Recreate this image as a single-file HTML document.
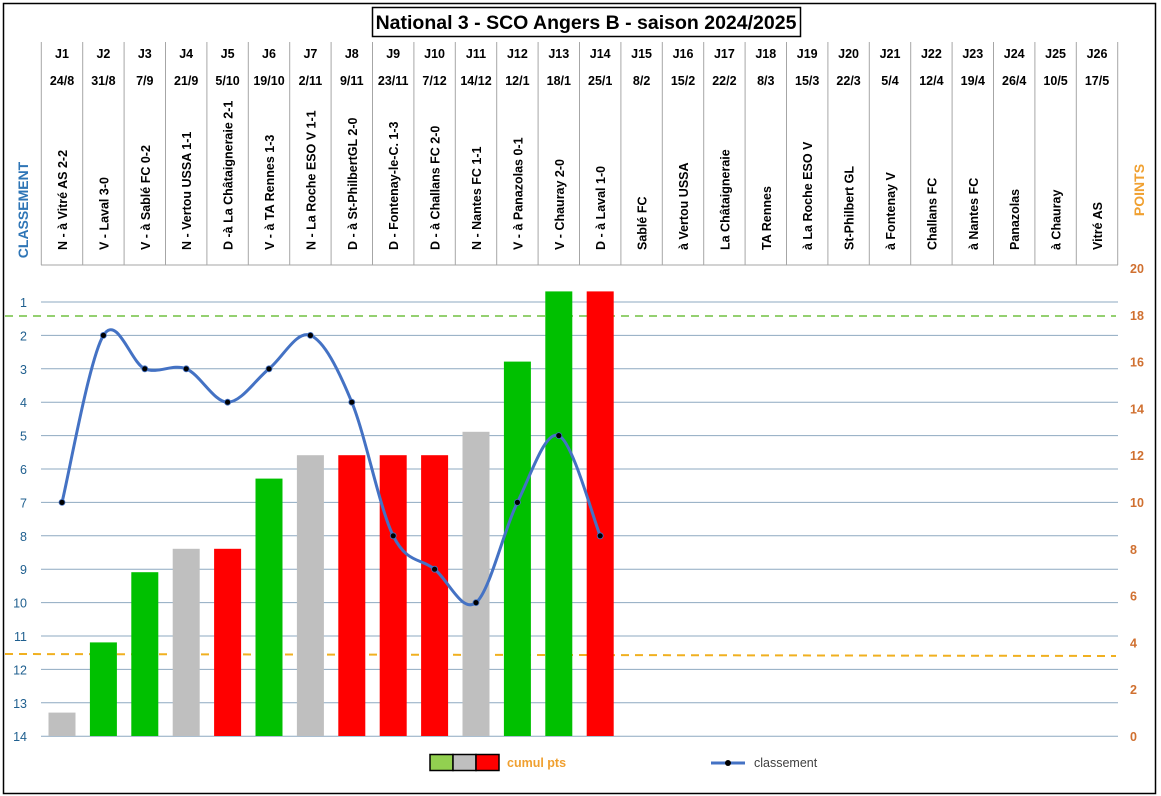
<!DOCTYPE html>
<html><head><meta charset="utf-8"><style>
html,body{margin:0;padding:0;background:#fff;width:1161px;height:796px;overflow:hidden}
svg{display:block;font-family:"Liberation Sans",Arial,sans-serif}
</style></head><body>
<svg id="s" width="1161" height="796" xmlns="http://www.w3.org/2000/svg">
<rect x="3.5" y="3.5" width="1152" height="790" fill="#fff" stroke="#000" stroke-width="1.5"/>
<rect x="372.5" y="7.5" width="428" height="29" fill="#fff" stroke="#000" stroke-width="1.5"/>
<text x="586" y="29" text-anchor="middle" font-size="19.5" font-weight="bold" fill="#000">National 3 - SCO Angers B - saison 2024/2025</text>
<g id="g"></g>
<text transform="translate(28,210) rotate(-90)" text-anchor="middle" font-size="14" font-weight="bold" fill="#2e75b6">CLASSEMENT</text>
<text transform="translate(1144,190) rotate(-90)" text-anchor="middle" font-size="14" font-weight="bold" fill="#f0a030">POINTS</text>
<rect x="430" y="754.5" width="23" height="16" fill="#92d050" stroke="#000" stroke-width="1.5"/>
<rect x="453" y="754.5" width="23" height="16" fill="#bfbfbf" stroke="#000" stroke-width="1.5"/>
<rect x="476" y="754.5" width="23" height="16" fill="#ff0000" stroke="#000" stroke-width="1.5"/>
<text x="507" y="767" font-size="12.5" font-weight="bold" fill="#f0a030">cumul pts</text>
<line x1="711" y1="763" x2="745" y2="763" stroke="#4472c4" stroke-width="3"/>
<circle cx="728" cy="763" r="3" fill="#000"/>
<text x="754" y="767" font-size="12.5" fill="#404040">classement</text>
</svg>
<script>
var g=document.getElementById('g'),h='';
function cx(i){return 41.3+41.4*(i-0.5);}
function ry(r){return 302+(r-1)*33.4;}
function py(p){return 736-23.4*p;}
var dates=['24/8','31/8','7/9','21/9','5/10','19/10','2/11','9/11','23/11','7/12','14/12','12/1','18/1','25/1','8/2','15/2','22/2','8/3','15/3','22/3','5/4','12/4','19/4','26/4','10/5','17/5'];
var labs=['N - à Vitré AS 2-2','V - Laval 3-0','V - à Sablé FC 0-2','N - Vertou USSA 1-1','D -à La Châtaigneraie 2-1','V - à TA Rennes 1-3','N - La Roche ESO V 1-1','D - à St-PhilbertGL 2-0','D - Fontenay-le-C. 1-3','D - à Challans FC 2-0','N - Nantes FC 1-1','V - à Panazolas 0-1','V - Chauray  2-0','D - à Laval 1-0','Sablé FC','à Vertou USSA','La Châtaigneraie','TA Rennes','à La Roche ESO V','St-Philbert GL','à Fontenay V','Challans FC','à Nantes FC','Panazolas','à Chauray','Vitré AS'];
// grid
for(var r=1;r<=14;r++){h+='<line x1="41" x2="1118" y1="'+ry(r)+'" y2="'+ry(r)+'" stroke="#8ea9c1" stroke-width="1"/>';
h+='<text x="27" y="'+(ry(r)+5)+'" text-anchor="end" font-size="12.5" fill="#1f5f8f">'+r+'</text>';}
for(var p=0;p<=20;p+=2){h+='<text x="1130" y="'+(py(p)+5)+'" font-size="12.5" font-weight="bold" fill="#d07030">'+p+'</text>';}
// header
for(var i=0;i<=26;i++){var x=41.3+41.4*i;h+='<line x1="'+x+'" x2="'+x+'" y1="42" y2="265" stroke="#a6a6a6"/>';}
h+='<line x1="41" x2="1118" y1="265" y2="265" stroke="#a6a6a6"/>';
for(var i=1;i<=26;i++){var x=cx(i);
h+='<text x="'+x+'" y="58" text-anchor="middle" font-size="12.5" font-weight="bold">J'+i+'</text>';
h+='<text x="'+x+'" y="85" text-anchor="middle" font-size="12.5" font-weight="bold">'+dates[i-1]+'</text>';
h+='<text transform="translate('+(x+5)+',250) rotate(-90)" font-size="12.5" font-weight="bold">'+labs[i-1]+'</text>';}
// dashed lines
h+='<line x1="5" x2="1116" y1="316" y2="316" stroke="#70c040" stroke-width="1.5" stroke-dasharray="8,6"/>';
h+='<line x1="5" x2="1116" y1="654" y2="656" stroke="#f0b020" stroke-width="2" stroke-dasharray="8,6"/>';
// bars
var pts=[1,4,7,8,8,11,12,12,12,12,13,16,19,19];
var col='GgGGgnGRRRRGggR';
var cols=['#bfbfbf','#00c000','#00c000','#bfbfbf','#ff0000','#00c000','#bfbfbf','#ff0000','#ff0000','#ff0000','#bfbfbf','#00c000','#00c000','#ff0000'];
for(var i=0;i<14;i++){var x=cx(i+1)-13.5,y=py(pts[i]);h+='<rect x="'+x+'" y="'+y+'" width="27" height="'+(736-y)+'" fill="'+cols[i]+'"/>';}
// line
var rk=[7,2,3,3,4,3,2,4,8,9,10,7,5,8];var P=rk.map(function(v,i){return [cx(i+1),ry(v)];});
var d='M'+P[0][0]+','+P[0][1];
for(var i=0;i<P.length-1;i++){var p0=P[Math.max(i-1,0)],p1=P[i],p2=P[i+1],p3=P[Math.min(i+2,P.length-1)];var t=1/6*1.0;
d+=' C'+(p1[0]+(p2[0]-p0[0])*t)+','+(p1[1]+(p2[1]-p0[1])*t)+' '+(p2[0]-(p3[0]-p1[0])*t)+','+(p2[1]-(p3[1]-p1[1])*t)+' '+p2[0]+','+p2[1];}
h+='<path d="'+d+'" fill="none" stroke="#4472c4" stroke-width="3"/>';
P.forEach(function(q){h+='<circle cx="'+q[0]+'" cy="'+q[1]+'" r="3" fill="#000" stroke="#4472c4" stroke-width="0.8"/>';});
g.innerHTML=h;
</script>
</body></html>
